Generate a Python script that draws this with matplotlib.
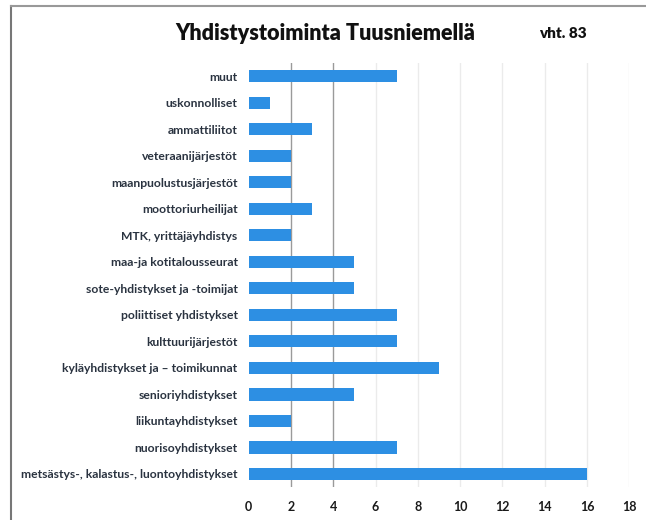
import matplotlib
matplotlib.use("Agg")
import matplotlib.pyplot as plt

categories = [
    "muut",
    "uskonnolliset",
    "ammattiliitot",
    "veteraanijärjestöt",
    "maanpuolustusjärjestöt",
    "moottoriurheilijat",
    "MTK, yrittäjäyhdistys",
    "maa-ja kotitalousseurat",
    "sote-yhdistykset ja -toimijat",
    "poliittiset yhdistykset",
    "kulttuurijärjestöt",
    "kyläyhdistykset ja – toimikunnat",
    "senioriyhdistykset",
    "liikuntayhdistykset",
    "nuorisoyhdistykset",
    "metsästys-, kalastus-, luontoyhdistykset",
]
values = [7, 1, 3, 2, 2, 3, 2, 5, 5, 7, 7, 9, 5, 2, 7, 16]
xticks = [0, 2, 4, 6, 8, 10, 12, 14, 16, 18]
title = "Yhdistystoiminta Tuusniemellä"
total_label = "vht. 83"

plt.rcParams['font.family'] = ['Lato', 'DejaVu Sans']

fig = plt.figure(figsize=(6.46, 5.2), dpi=100)
ax = fig.add_axes([0.385, 0.063, 0.589, 0.816])

n = len(categories)
ypos = list(range(n - 1, -1, -1))
for x in xticks[1:]:
    col = "#9a9a9a" if x in (2, 4) else "#ebebeb"
    ax.axvline(x, color=col, lw=1.0, zorder=0)
ax.barh(ypos, values, height=0.46, color="#2d8fe3", zorder=2)
ax.set_xlim(0, 18)
ax.set_ylim(-0.5, n - 0.5)
ax.set_yticks(ypos)
ax.set_yticklabels(categories, fontsize=8.7, fontweight="bold", color="#2a3340")
ax.set_xticks(xticks)
ax.set_xticklabels([str(t) for t in xticks], fontsize=9, fontweight="bold", color="#1a1a1a")
ax.tick_params(axis="y", length=0, pad=8)
ax.tick_params(axis="x", length=0, pad=10)
for s in ax.spines.values():
    s.set_visible(False)

fig.text(0.503, 0.935, title, ha="center", va="center", fontsize=15.5, fontweight="heavy", color="#111111")
fig.text(0.871, 0.935, total_label, ha="center", va="center", fontsize=11, fontweight="heavy", color="#111111")

# frame lines
fig.add_artist(plt.Line2D([0.017, 0.017], [0.0, 0.988], color="#777777", lw=1.5, transform=fig.transFigure))
fig.add_artist(plt.Line2D([0.017, 1.0], [0.988, 0.988], color="#999999", lw=1.5, transform=fig.transFigure))

fig.savefig("out.png", dpi=100)
